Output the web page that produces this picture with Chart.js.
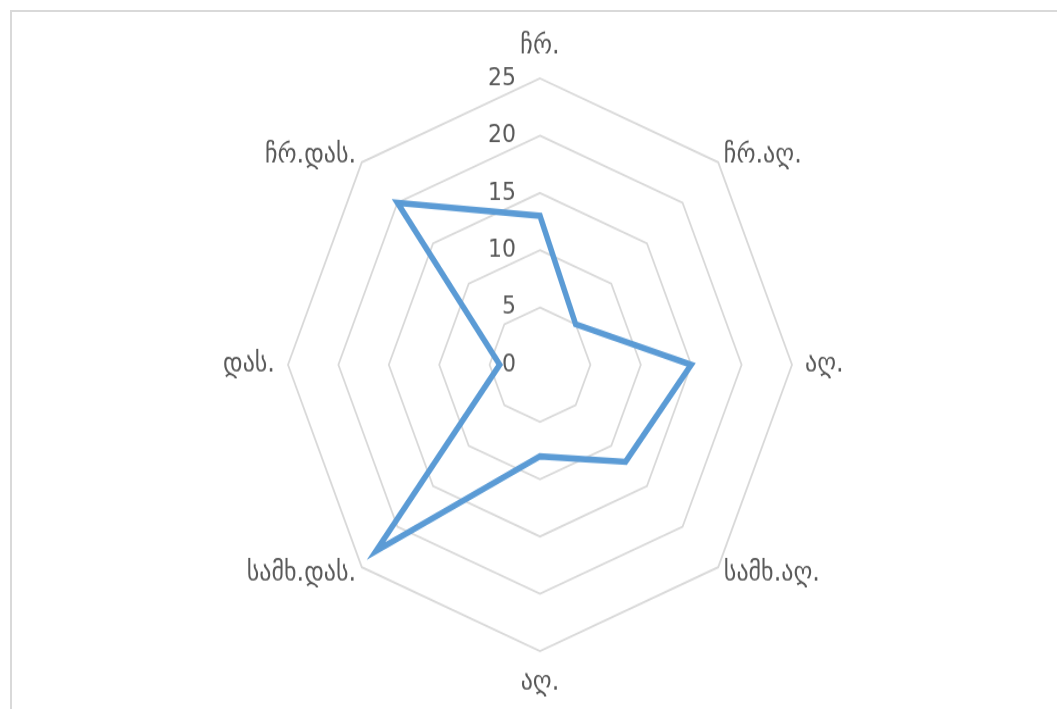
<!DOCTYPE html>
<html>
<head>
<meta charset="utf-8">
<script src="https://cdn.jsdelivr.net/npm/chart.js@4/dist/chart.umd.min.js"></script>
<style>
  html, body { margin: 0; padding: 0; background: #fff; }
  body { width: 1057px; height: 709px; overflow: hidden; position: relative; }
  #frame {
    position: absolute; left: 10px; top: 10px; width: 1060px; height: 710px;
    border: 2px solid #d9d9d9; box-sizing: border-box;
  }
  #wrap {
    position: absolute; left: 0; top: 0; width: 1057px; height: 624px;
    transform: scale(1, 1.1362); transform-origin: 0 0;
  }
</style>
</head>
<body>
<div id="frame"></div>
<div id="wrap"><canvas id="windChart"></canvas></div>
<script>
  // wind directions, clockwise from north
  const directions = ['ჩრ.', 'ჩრ.აღ.', 'აღ.', 'სამხ.აღ.', 'აღ.', 'სამხ.დას.', 'დას.', 'ჩრ.დას.'];
  const windValues = [13, 5, 15, 12, 8, 23, 4, 20];
  const tickValues = [0, 5, 10, 15, 20, 25];
  const tickLabels = ['0', '5', '10', '15', '20', '25'];

  const textColor = '#595959';
  const fontFamily = '"DejaVu Sans", sans-serif';

  // Excel style labels: tick numbers left of the north spoke, direction names outside the web
  const excelLabels = {
    id: 'excelLabels',
    afterDraw(chart) {
      const scale = chart.scales.r;
      const ctx = chart.ctx;
      ctx.save();
      ctx.fillStyle = textColor;
      ctx.font = '22px ' + fontFamily;
      ctx.textAlign = 'right';
      ctx.textBaseline = 'middle';
      tickValues.forEach((v, i) => {
        const y = scale.yCenter - scale.getDistanceFromCenterForValue(v);
        ctx.fillText(tickLabels[i], scale.xCenter - 24, y);
      });

      ctx.font = '24px ' + fontFamily;
      directions.forEach((name, i) => {
        let off = 8, align = i < 4 ? 'left' : 'right';
        if (i === 0 || i === 4) { off = 28; align = 'center'; }
        if (i === 2 || i === 6) off = 13;
        const p = scale.getPointPosition(i, scale.drawingArea + off);
        ctx.textAlign = align;
        ctx.fillText(name, p.x, p.y);
      });
      ctx.restore();
    }
  };

  const ctx = document.getElementById('windChart').getContext('2d');
  const windChart = new Chart(ctx, {
    type: 'radar',
    data: {
      labels: directions,
      datasets: [{
        data: windValues,
        borderColor: '#5b9bd5',
        borderWidth: 5.5,
        fill: false,
        pointRadius: 0,
        pointHoverRadius: 0,
        tension: 0
      }]
    },
    options: {
      responsive: true,
      maintainAspectRatio: false,
      animation: false,
      layout: { padding: { left: 23, right: 0, top: 69, bottom: 51 } },
      plugins: {
        legend: { display: false },
        tooltip: { enabled: false }
      },
      scales: {
        r: {
          min: 0,
          max: 25,
          afterBuildTicks: (scale) => { scale.ticks = tickValues.map(v => ({ value: v })); },
          ticks: { display: false, stepSize: 5 },
          grid: { color: '#d9d9d9', lineWidth: 1.8, circular: false },
          angleLines: { display: false },
          pointLabels: { display: false }
        }
      }
    },
    plugins: [excelLabels]
  });
</script>
</body>
</html>
